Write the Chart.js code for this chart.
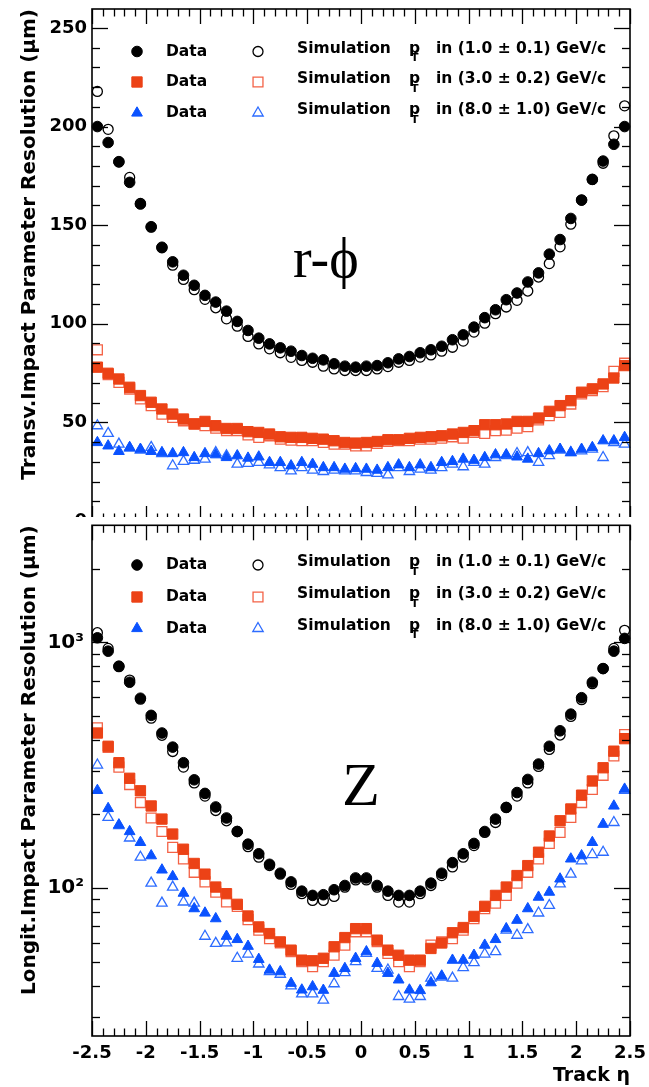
<!DOCTYPE html>
<html lang="en"><head>
<title>Impact Parameter Resolution</title>
<style>
* { margin: 0; padding: 0 }
body { background: #fff; width: 649px; height: 1087px; position: relative; overflow: hidden; }
#TopCanvas { position: absolute; left: 0; top: 0; }
#BottomCanvas { position: absolute; left: 0; top: 517px; background: #fff; }
</style>
<script src="https://cdn.jsdelivr.net/npm/chart.js"></script>
<script>

// bin centres in track eta
const etaBins = [-2.45, -2.35, -2.25, -2.15, -2.05, -1.95, -1.85, -1.75, -1.65, -1.55,
                 -1.45, -1.35, -1.25, -1.15, -1.05, -0.95, -0.85, -0.75, -0.65, -0.55,
                 -0.45, -0.35, -0.25, -0.15, -0.05, 0.05, 0.15, 0.25, 0.35, 0.45,
                 0.55, 0.65, 0.75, 0.85, 0.95, 1.05, 1.15, 1.25, 1.35, 1.45,
                 1.55, 1.65, 1.75, 1.85, 1.95, 2.05, 2.15, 2.25, 2.35, 2.45];

const xTickValues = [-2.5, -2, -1.5, -1, -0.5, 0, 0.5, 1, 1.5, 2, 2.5];
const xTickLabels = ['-2.5', '-2', '-1.5', '-1', '-0.5', '0', '0.5', '1', '1.5', '2', '2.5'];
const rphiTickValues = [0, 50, 100, 150, 200, 250];
const rphiTickLabels = ['0', '50', '100', '150', '200', '250'];
const zTickValues = [100, 1000];
const zTickLabels = ['10\u00b2', '10\u00b3'];
const zMinorTicks = [30, 40, 50, 60, 70, 80, 90, 200, 300, 400, 500, 600, 700, 800, 900, 2000];

// r-phi, transverse (um)
const rphiData1 = [200, 191.9, 182.2, 171.7, 160.7, 149.2, 138.8, 131.4, 124.6, 119.5,
                   114.4, 111, 106.4, 101.2, 96.6, 92.7, 89.8, 87.8, 86.1, 83.9,
                   82.5, 81.7, 79.7, 78.5, 78.0, 78.5, 78.8, 80.2, 82.2, 83.4,
                   85.3, 86.8, 88.6, 91.9, 94.4, 98.3, 103.1, 107.1, 112.2, 115.6,
                   121.2, 125.8, 135.3, 142.7, 153.4, 162.7, 173.2, 182.5, 191, 200];
const rphiSim1 = [217.8, 198.6, 182, 174.2, 161, 149, 138.5, 129.7, 122.5, 117.3,
                  112.4, 108.1, 102.5, 98.8, 93.6, 89.8, 87.3, 85.3, 83, 81.4,
                  80.5, 78.5, 77.1, 76.3, 76.3, 76.3, 77.1, 78.3, 80.5, 81.4,
                  83.1, 84.2, 86.1, 88.1, 91.2, 95.8, 100.3, 105.1, 108.5, 111.9,
                  116.6, 123.7, 130.5, 139, 150.5, 162.7, 173.2, 181.4, 195.3, 210.5];
const rphiData3 = [78, 74.9, 72, 67.8, 63.6, 60.2, 56.8, 54.2, 51.7, 49.2,
                   50.5, 48.3, 46.9, 46.9, 45.3, 44.9, 44.1, 42.7, 42.4, 42.4,
                   41.9, 41.5, 40.7, 39.8, 39.5, 39.8, 40.3, 41.2, 41.2, 41.9,
                   42.4, 42.7, 43.2, 44.1, 44.9, 45.8, 48.8, 48.8, 49.2, 50.5,
                   50.5, 52.2, 55.6, 58.5, 61, 65.3, 67, 69.5, 72.5, 78.8];
const rphiSim3 = [86.8, 74.2, 70.3, 66.9, 61.9, 58.5, 54.2, 52.5, 50.8, 49.2,
                  48.3, 47.1, 45.8, 45.8, 43.6, 42.4, 43.2, 41.5, 41, 40.7,
                  40.7, 39.8, 39, 39, 38.1, 38.1, 39.3, 40.3, 40.7, 40.7,
                  41.5, 41.5, 42, 42.7, 42, 44.9, 44.4, 45.8, 46.1, 47.1,
                  47.8, 51.2, 53.4, 55.1, 59.3, 64.4, 66.1, 68.1, 75.9, 80];
const rphiData8 = [39.8, 38.1, 35.3, 37.3, 36.4, 35.3, 34.7, 34.2, 34.7, 32.2,
                   34.2, 33.6, 32.2, 33.1, 31.9, 32.5, 29.7, 29.7, 28, 29.7,
                   28.8, 27.1, 27.1, 26.3, 26.6, 26.3, 25.8, 27.1, 28.5, 27.1,
                   28.5, 27.1, 29.7, 30.2, 31.4, 30.8, 32.2, 33.6, 33.6, 32.5,
                   31.4, 34.2, 35.6, 36.4, 34.7, 36.4, 37.3, 40.7, 40.7, 42.4];
const rphiSim8 = [48.3, 44.4, 39, 37, 35.9, 37.3, 34.2, 28, 30.2, 30.8,
                  31.4, 34.7, 33.1, 28.8, 29.2, 29.7, 28.5, 27.1, 25.4, 27.1,
                  25.8, 25.1, 25.8, 25.4, 25.4, 24.6, 24.1, 23.4, 27.1, 25.1,
                  26.3, 25.8, 27.1, 28.8, 27.5, 29.7, 28.8, 32.2, 33.1, 34.2,
                  34.7, 29.7, 33.1, 35.9, 34.7, 35.6, 36.4, 32.2, 39.8, 39];

// z, longitudinal (um)
const zData1 = [1045, 922, 801, 689, 593, 505, 428, 375, 324, 276,
                243, 214, 193, 170, 151, 138, 125, 115, 106, 97.2,
                93.4, 94, 98.5, 102.5, 110, 110, 102.5, 97.2, 93.4, 93.4,
                97.2, 104.8, 115, 127, 138, 152, 170, 191, 213, 245,
                277, 320, 378, 437, 511, 596, 689, 783, 922, 1039];
const zSim1 = [1096, 946, 797, 703, 588, 492, 419, 360, 311, 268,
               237, 207, 188, 170, 147.5, 133.6, 123.6, 114, 103.5, 94.9,
               89.1, 89.1, 92.5, 100.9, 108, 108, 100.9, 93.4, 87.7, 87.7,
               94.9, 102.5, 112.5, 122, 133.6, 149, 168.6, 185, 213, 237,
               268, 313, 367, 420, 500, 585, 680, 783, 946, 1121];
const zData3 = [428, 378, 324, 280, 249, 216, 191, 166, 144, 126,
                114, 101, 94.9, 85.9, 77, 69.5, 65.3, 60.4, 55.9, 50.9,
                50.6, 51.8, 57.7, 62.9, 68.4, 68.4, 61.4, 55.9, 53.3, 50.9,
                50.9, 56.8, 59.8, 65.8, 69.1, 76.7, 84.3, 93.4, 101, 112.5,
                123.5, 140, 163, 188, 210, 239, 273, 309, 361, 406];
const zSim3 = [449, 374, 311, 264, 223, 193, 170, 146.5, 131.5, 116,
               106, 96.3, 87.8, 84.3, 74.4, 67.4, 62.3, 59.8, 55.1, 50.2,
               47.9, 50.2, 53.3, 58.6, 66.4, 66.4, 60.5, 54.2, 50.2, 47.9,
               50.2, 58.6, 60.5, 62.3, 67.4, 75.1, 82.5, 86.9, 93.4, 104.8,
               116, 131.5, 152, 168.6, 194, 223, 252, 288, 345, 422];
const zData8 = [250, 211, 181, 170, 153.5, 135.5, 118.6, 111.5, 95.4, 82.5,
                79.2, 75.1, 63.7, 61.8, 58, 51.3, 46.4, 45.7, 41, 38.5,
                39.7, 38.4, 45, 47.1, 51.8, 55.1, 49.4, 45, 42.3, 38.5,
                38.3, 41.2, 43.9, 50.9, 50.9, 53.3, 58.6, 61.8, 68.4, 74,
                82.5, 91.9, 96.3, 109, 131.5, 135.5, 153.5, 182, 216, 253];
const zSim8 = [317, 194, 179.5, 160, 133.6, 104.8, 86.9, 101, 87.8, 86.9,
               63.7, 59.6, 59.8, 51.8, 53.9, 49.1, 45.7, 44.6, 40, 37.1,
               37.1, 35, 40.8, 45.3, 50.2, 54.2, 47.1, 46.4, 36.2, 35.3,
               36.2, 43, 43.4, 43, 47.5, 49.7, 53.9, 55.1, 67.4, 64.3,
               67.8, 79.2, 85, 104, 114, 129, 137, 140, 185, 250];

const legendDataText = 'Data';
const legendSimText = 'Simulation';
const legendPtRanges = ['in (1.0 \u00b1 0.1) GeV/c', 'in (3.0 \u00b1 0.2) GeV/c', 'in (8.0 \u00b1 1.0) GeV/c'];

const RED = 'rgb(236,66,22)';
const RED_OPEN = 'rgb(244,98,70)';
const BLUE = 'rgb(10,82,255)';
const BLUE_OPEN = 'rgb(45,108,255)';

// data styles first (drawn on top), then simulation
const markerStyles = [
  {pointStyle: 'circle',   radius: 5.3, fill: '#000', line: '#000', lw: 1},
  {pointStyle: 'rect',     radius: 7.3, fill: RED,    line: RED,    lw: 1},
  {pointStyle: 'triangle', radius: 6.2, fill: BLUE,   line: BLUE,   lw: 1},
  {pointStyle: 'circle',   radius: 5.0, fill: 'rgba(0,0,0,0)', line: '#000',     lw: 1.3},
  {pointStyle: 'rect',     radius: 7.0, fill: 'rgba(0,0,0,0)', line: RED_OPEN,   lw: 1.3},
  {pointStyle: 'triangle', radius: 6.0, fill: 'rgba(0,0,0,0)', line: BLUE_OPEN,  lw: 1.3},
];

const SANS = '"DejaVu Sans", sans-serif';
const SERIF = '"Liberation Serif", "DejaVu Serif", serif';

// per-chart tick lists for the frame: [value, length]
const frameTicks = {};

function get(id) {
    return document.getElementById(id);
}

function makeDatasets(series) {
    return series.map((vals, i) => {
        const st = markerStyles[i];
        return {
            data: vals.map((v, j) => ({x: etaBins[j], y: v})),
            pointStyle: st.pointStyle,
            pointRadius: st.radius,
            backgroundColor: st.fill,
            borderColor: st.line,
            borderWidth: st.lw,
            showLine: false,
            clip: false,
        };
    });
}

function drawMarker(ctx, st, x, y) {
    ctx.save();
    ctx.fillStyle = st.fill;
    ctx.strokeStyle = st.line;
    ctx.lineWidth = st.lw;
    Chart.helpers.drawPoint(ctx, {pointStyle: st.pointStyle, radius: st.radius, rotation: 0, borderWidth: st.lw}, x, y);
    ctx.restore();
}

function segment(ctx, x0, y0, x1, y1) {
    ctx.beginPath();
    ctx.moveTo(x0, y0);
    ctx.lineTo(x1, y1);
    ctx.stroke();
}

// ROOT style frame with inward ticks on all four sides
const rootFrame = {
    id: 'rootFrame',
    afterDatasetsDraw(chart) {
        const ctx = chart.ctx;
        const a = chart.chartArea;
        const xs = chart.scales.x;
        const ys = chart.scales.y;
        const yt = frameTicks[chart.canvas.id];
        ctx.save();
        ctx.setLineDash([]);
        ctx.globalAlpha = 1;
        ctx.strokeStyle = '#000';
        ctx.lineWidth = 1.3;
        for (let i = 0; i <= 50; i++) {
            const len = (i % 5 == 0) ? 15 : 7.5;
            const px = Math.round(xs.getPixelForValue(-2.5 + i * 0.1)) + 0.5;
            segment(ctx, px, a.bottom, px, a.bottom - len);
            segment(ctx, px, a.top, px, a.top + len);
        }
        for (const t of yt) {
            const py = Math.round(ys.getPixelForValue(t[0])) + 0.5;
            segment(ctx, a.left, py, a.left + t[1], py);
            segment(ctx, a.right, py, a.right - t[1], py);
        }
        ctx.lineWidth = 1.6;
        ctx.strokeRect(a.left, a.top, a.right - a.left, a.bottom - a.top);
        ctx.restore();
    }
};

// two column legend + big label
const rootLegend = {
    id: 'rootLegend',
    afterDatasetsDraw(chart, args, o) {
        const ctx = chart.ctx;
        ctx.save();
        ctx.fillStyle = '#000';
        ctx.textBaseline = 'middle';
        ctx.textAlign = 'left';
        for (let i = 0; i < 3; i++) {
            const ry = o.rows[i];
            drawMarker(ctx, markerStyles[i], 137, ry);
            drawMarker(ctx, markerStyles[i + 3], 258, ry);
            ctx.fillStyle = '#000';
            ctx.font = 'bold 15.5px ' + SANS;
            ctx.fillText(legendDataText, 166, ry);
            ctx.fillText(legendSimText, 297, ry - 3);
            ctx.fillText('p', 409, ry - 3);
            ctx.fillText(legendPtRanges[i], 436, ry - 3);
            ctx.font = 'bold 11px ' + SANS;
            ctx.fillText('T', 411, ry + 7);
        }
        ctx.font = o.bigFont;
        ctx.textBaseline = 'alphabetic';
        ctx.fillText(o.bigText, o.bigX, o.bigY);
        ctx.restore();
    }
};

function axisX(showLabels) {
    return {
        type: 'linear', min: -2.5, max: 2.5,
        grid: {display: false, drawTicks: false},
        border: {display: false},
        ticks: {
            display: showLabels, autoSkip: false, maxRotation: 0, padding: 7,
            color: '#000', font: {family: SANS, size: 18, weight: 'bold'},
            callback: (v) => xTickLabels[xTickValues.indexOf(v)],
        },
        afterBuildTicks: (s) => { s.ticks = xTickValues.map(v => ({value: v})); },
        title: {
            display: showLabels, text: 'Track \u03b7', align: 'end', color: '#000',
            font: {family: SANS, size: 19, weight: 'bold'}, padding: {top: 0, bottom: 0},
        },
        afterFit: (s) => {
            s.height = showLabels ? 51 : 24;
            s.paddingLeft = 0; s.paddingRight = 0;
        },
    };
}

function axisYFit(s) {
    s.width = 92;
    s.paddingTop = 0;
    s.paddingBottom = 0;
}

function bodyOnLoad() {
    Chart.defaults.font.family = SANS;

    const rphiTicks = [];
    for (let v = 0; v <= 250; v += 10) rphiTicks.push([v, (v % 50 == 0) ? 16 : 8]);
    frameTicks.TopCanvas = rphiTicks;
    frameTicks.BottomCanvas = zTickValues.map(v => [v, 16]).concat(zMinorTicks.map(v => [v, 8]));

    new Chart(get('TopCanvas'), {
        type: 'scatter',
        data: {datasets: makeDatasets([rphiData1, rphiData3, rphiData8, rphiSim1, rphiSim3, rphiSim8])},
        options: {
            responsive: false, animation: false, events: [],
            layout: {padding: {left: 0, right: 19, top: 9, bottom: 0}},
            plugins: {
                legend: {display: false}, tooltip: {enabled: false},
                rootLegend: {rows: [51.5, 82, 113], bigText: 'r-\u03d5', bigFont: '56px ' + SERIF, bigX: 293, bigY: 277},
            },
            scales: {
                x: axisX(false),
                y: {
                    type: 'linear', min: 0, max: 259.6, bounds: 'data',
                    grid: {display: false, drawTicks: false},
                    border: {display: false},
                    ticks: {
                        autoSkip: false, padding: 5, color: '#000',
                        font: {family: SANS, size: 18, weight: 'bold'},
                        callback: (v) => rphiTickLabels[rphiTickValues.indexOf(v)],
                    },
                    afterBuildTicks: (s) => { s.ticks = rphiTickValues.map(v => ({value: v})); },
                    afterFit: axisYFit,
                    title: {
                        display: true, text: 'Transv.Impact Parameter Resolution (\u03bcm)', align: 'end',
                        color: '#000', font: {family: SANS, size: 20, weight: 'bold'},
                        padding: {top: 18, bottom: 0},
                    },
                },
            },
        },
        plugins: [rootFrame, rootLegend],
    });

    new Chart(get('BottomCanvas'), {
        type: 'scatter',
        data: {datasets: makeDatasets([zData1, zData3, zData8, zSim1, zSim3, zSim8])},
        options: {
            responsive: false, animation: false, events: [],
            layout: {padding: {left: 0, right: 19, top: 6, bottom: 0}},
            plugins: {
                legend: {display: false}, tooltip: {enabled: false},
                rootLegend: {rows: [48, 80, 111.5], bigText: 'Z', bigFont: '62px ' + SERIF, bigX: 342, bigY: 288},
            },
            scales: {
                x: axisX(true),
                y: {
                    type: 'logarithmic', min: 25, max: 3000,
                    grid: {display: false, drawTicks: false},
                    border: {display: false},
                    ticks: {
                        autoSkip: false, padding: 8, color: '#000',
                        font: {family: SANS, size: 20, weight: 'bold'},
                        callback: (v) => zTickLabels[zTickValues.indexOf(v)],
                    },
                    afterBuildTicks: (s) => { s.ticks = zTickValues.map(v => ({value: v})); },
                    afterFit: axisYFit,
                    title: {
                        display: true, text: 'Longit.Impact Parameter Resolution (\u03bcm)', align: 'end',
                        color: '#000', font: {family: SANS, size: 20, weight: 'bold'},
                        padding: {top: 18, bottom: 0},
                    },
                },
            },
        },
        plugins: [rootFrame, rootLegend],
    });
}

</script>
</head><body onload="bodyOnLoad()">
<canvas id="TopCanvas" width="649" height="545"></canvas>
<canvas id="BottomCanvas" width="649" height="570"></canvas>
</body></html>
